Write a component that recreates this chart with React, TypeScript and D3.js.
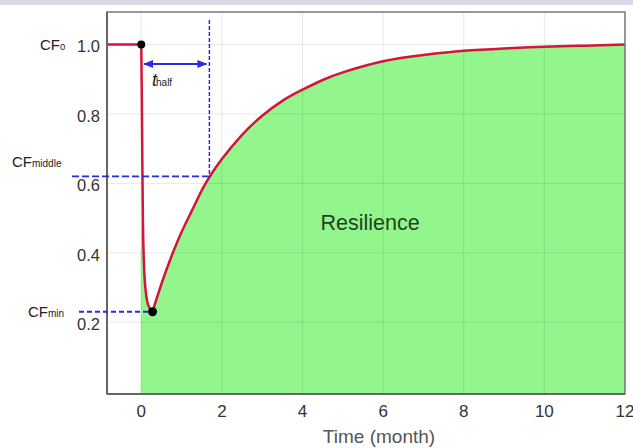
import React from "react";
import * as d3 from "d3";

// recovery curve (time in months, CF value)
const dropTimes = [-0.85, 0, 0.02, 0.04, 0.07, 0.11, 0.17, 0.28];
const dropValues = [1.0, 1.0, 0.75, 0.5, 0.36, 0.29, 0.25, 0.23];
const riseTimes = [0.28, 0.5, 0.75, 1.0, 1.25, 1.5, 1.7, 2.0, 2.5, 3.0, 3.5, 4.0, 4.5, 5.0, 6.0, 7.0, 8.0, 9.0, 10.0, 11.0, 12.0];
const riseValues = [0.23, 0.31, 0.39, 0.46, 0.52, 0.58, 0.62, 0.67, 0.74, 0.795, 0.838, 0.87, 0.898, 0.92, 0.952, 0.97, 0.982, 0.989, 0.994, 0.997, 1.0];

const xTicks = [0, 2, 4, 6, 8, 10, 12];
const yTicks = [0.2, 0.4, 0.6, 0.8, 1.0];

// marked points
const startPoint = { t: 0, cf: 1.0 };
const minPoint = { t: 0.28, cf: 0.23 };
const tHalf = 1.69;
const cfMiddle = 0.62;

const W = 633;
const H = 448;
const plot = { left: 107, right: 625, top: 12, bottom: 394 };
const font = "'Liberation Sans', Arial, Helvetica, sans-serif";
const blue = "#2b2be0";
const green = "#92f68c";

type Pt = { t: number; cf: number };

export default function App() {
  const x = d3.scaleLinear().domain([-0.85, 12]).range([plot.left, plot.right]);
  const y = d3.scaleLinear().domain([-0.007, 1.094]).range([plot.bottom, plot.top]);

  const drop: Pt[] = dropTimes.map((t, i) => ({ t, cf: dropValues[i] }));
  const rise: Pt[] = riseTimes.map((t, i) => ({ t, cf: riseValues[i] }));

  const dropLine = d3
    .line<Pt>()
    .curve(d3.curveMonotoneX)
    .x((d) => x(d.t))
    .y((d) => y(d.cf));
  const riseLine = d3
    .line<Pt>()
    .curve(d3.curveNatural)
    .x((d) => x(d.t))
    .y((d) => y(d.cf));

  const dropArea = d3
    .area<Pt>()
    .curve(d3.curveMonotoneX)
    .x((d) => x(d.t))
    .y0(plot.bottom)
    .y1((d) => y(d.cf));
  const riseArea = d3
    .area<Pt>()
    .curve(d3.curveNatural)
    .x((d) => x(d.t))
    .y0(plot.bottom)
    .y1((d) => y(d.cf));

  // fill starts at t=0 at the curve's lower part
  const dropFill = [{ t: 0, cf: 0.4 }, ...drop.filter((d) => d.t >= 0.04)];

  return (
    <svg
      width={W}
      height={H}
      style={{ position: "absolute", left: 0, top: 0, background: "#fff" }}
      fontFamily={font}
    >
      <defs>
        <clipPath id="plotClip">
          <rect x={plot.left} y={plot.top} width={plot.right - plot.left} height={plot.bottom - plot.top} />
        </clipPath>
        <marker id="arrowEnd" viewBox="0 0 10 10" refX="9" refY="5" markerWidth="5" markerHeight="5" orient="auto">
          <path d="M0,1 L10,5 L0,9 z" fill={blue} />
        </marker>
        <marker id="arrowStart" viewBox="0 0 10 10" refX="1" refY="5" markerWidth="5" markerHeight="5" orient="auto">
          <path d="M10,1 L0,5 L10,9 z" fill={blue} />
        </marker>
      </defs>

      {/* top strip */}
      <rect x={0} y={0} width={W} height={5} fill="#d9d8e7" />

      <g clipPath="url(#plotClip)">
        <path d={dropArea(dropFill) ?? ""} fill={green} stroke={green} strokeWidth={1} />
        <path d={riseArea(rise) ?? ""} fill={green} stroke={green} strokeWidth={1} />
        {xTicks.map((t) => (
          <line key={"gx" + t} x1={x(t)} x2={x(t)} y1={plot.top} y2={plot.bottom} stroke="rgba(0,0,0,0.09)" strokeWidth={1} />
        ))}
        {yTicks.map((v) => (
          <line key={"gy" + v} x1={plot.left} x2={plot.right} y1={y(v)} y2={y(v)} stroke="rgba(0,0,0,0.09)" strokeWidth={1} />
        ))}
        <path d={dropLine(drop) ?? ""} fill="none" stroke="#d4143c" strokeWidth={2.5} />
        <path d={riseLine(rise) ?? ""} fill="none" stroke="#d4143c" strokeWidth={2.5} />
      </g>

      {/* frame */}
      <rect
        x={plot.left}
        y={plot.top}
        width={plot.right - plot.left}
        height={plot.bottom - plot.top}
        fill="none"
        stroke="#777"
        strokeWidth={1.5}
      />
      <line x1={plot.left} x2={plot.left} y1={plot.top} y2={plot.bottom} stroke="#666" strokeWidth={2} />
      <line x1={plot.left} x2={plot.right} y1={plot.bottom} y2={plot.bottom} stroke="#666" strokeWidth={2} />

      {/* blue guide lines */}
      <line x1={x(tHalf)} x2={x(tHalf)} y1={20} y2={y(cfMiddle)} stroke={blue} strokeWidth={1.5} strokeDasharray="4 2" />
      <line x1={72} x2={x(tHalf)} y1={y(cfMiddle)} y2={y(cfMiddle)} stroke={blue} strokeWidth={1.8} strokeDasharray="7 3" />
      <line x1={79} x2={x(minPoint.t)} y1={y(minPoint.cf)} y2={y(minPoint.cf)} stroke={blue} strokeWidth={1.8} strokeDasharray="5 3" />
      <line
        x1={x(0.07)}
        x2={x(tHalf) - 3}
        y1={64}
        y2={64}
        stroke={blue}
        strokeWidth={2}
        markerStart="url(#arrowStart)"
        markerEnd="url(#arrowEnd)"
      />

      {/* points */}
      <circle cx={x(startPoint.t)} cy={y(startPoint.cf)} r={4} fill="#000" />
      <circle cx={x(minPoint.t)} cy={y(minPoint.cf)} r={4.5} fill="#000" />

      {/* y tick labels */}
      {yTicks.map((v) => (
        <text key={"yl" + v} x={100} y={y(v) + 2} dy="0.35em" textAnchor="end" fontSize={16.5} fill="#333">
          {v.toFixed(1)}
        </text>
      ))}
      {/* x tick labels */}
      {xTicks.map((t) => (
        <text key={"xl" + t} x={x(t)} y={411} dy="0.35em" textAnchor="middle" fontSize={17} fill="#333">
          {t}
        </text>
      ))}

      {/* annotations */}
      <text x={40} y={50} fontSize={15} fill="#222">
        CF<tspan fontSize={9.5}>0</tspan>
      </text>
      <text x={12} y={167} fontSize={15} fill="#222">
        CF<tspan fontSize={10}>middle</tspan>
      </text>
      <text x={28} y={317} fontSize={15} fill="#222">
        CF<tspan fontSize={10}>min</tspan>
      </text>
      <text x={152} y={86} fontSize={18} fill="#222" fontStyle="italic">
        t<tspan fontSize={10} fontStyle="normal" dx={-1}>half</tspan>
      </text>
      <text x={370} y={222} dy="0.35em" textAnchor="middle" fontSize={21.5} fill="#1e441e">
        Resilience
      </text>
      <text x={379} y={443} textAnchor="middle" fontSize={19} fill="#555">
        Time (month)
      </text>
    </svg>
  );
}
